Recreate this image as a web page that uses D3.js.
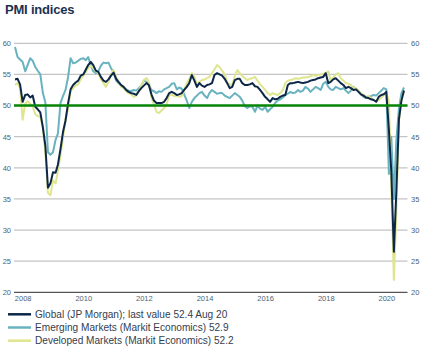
<!DOCTYPE html>
<html><head><meta charset="utf-8">
<script src="https://cdn.jsdelivr.net/npm/d3@7"></script>
<style>
html,body{margin:0;padding:0;background:#fff;}
svg{display:block;font-family:"Liberation Sans",Arial,sans-serif;}
</style></head>
<body>
<svg id="chart" width="422" height="360"></svg>
<script>
// Monthly data, Oct 2007 .. Aug 2020
const startMonth = new Date(2007, 9, 1);
const endMonth = new Date(2020, 7, 1);

const globalPMI = [
54.2,54.3,53.4,50.6,51.7,51.8,51.3,51.6,49.8,49.4,48.9,46.5,43.5,36.8,37.5,39.3,39.2,40.5,43.0,45.7,
47.6,50.3,52.6,53.3,53.7,54.0,54.8,55.0,55.8,56.5,57.0,56.5,55.6,55.4,54.6,54.0,53.8,54.2,54.8,55.3,
54.3,53.8,53.3,53.0,52.5,52.2,52.0,51.9,51.7,52.3,52.8,53.2,53.6,53.3,51.8,50.8,50.4,50.4,50.4,50.6,
51.2,52.0,52.2,52.0,51.7,51.8,52.0,52.5,53.0,53.6,54.9,54.0,53.0,53.6,53.2,53.0,53.3,53.4,53.6,54.9,
55.2,55.0,54.8,54.3,53.6,52.8,53.0,54.1,54.3,54.3,53.6,53.3,53.3,53.4,53.6,53.1,53.0,52.5,52.0,51.4,
51.0,50.6,51.2,51.0,51.1,51.4,51.6,51.7,53.3,53.6,53.6,53.7,53.8,53.7,53.6,53.7,53.8,54.0,54.1,54.2,
54.4,54.5,54.6,55.2,53.6,53.8,54.2,54.4,54.0,53.6,53.3,52.8,53.0,52.8,52.5,52.6,52.2,51.8,51.6,51.3,
51.2,51.0,50.9,50.6,51.4,51.7,51.8,52.2,46.1,39.4,26.5,36.3,47.8,50.8,52.4];

const emergingPMI = [
59.4,57.8,57.4,57.0,55.5,56.5,57.6,57.2,56.2,55.6,55.0,52.0,50.5,42.5,42.1,42.5,44.5,45.5,50.4,51.5,
52.5,54.5,57.6,56.8,56.9,57.2,57.5,57.6,57.3,57.8,56.5,55.5,55.2,55.5,56.4,56.9,56.8,56.9,56.0,55.4,
54.0,53.6,53.3,53.0,52.6,52.4,52.3,52.5,52.4,52.8,53.2,54.0,53.8,53.3,52.5,52.3,52.0,52.3,52.2,52.6,
52.8,53.0,53.5,53.6,52.6,52.9,52.7,51.8,50.8,49.6,50.6,51.2,51.6,52.0,52.2,51.6,51.2,52.0,52.5,52.2,
51.9,52.0,52.0,51.6,51.4,51.2,51.6,52.0,51.7,51.4,50.8,49.9,49.6,49.9,49.8,49.0,50.0,49.5,49.3,49.8,
49.0,49.4,49.8,50.4,50.8,51.0,51.3,51.7,51.9,52.2,52.0,52.1,52.5,52.2,52.4,53.0,52.7,52.2,52.6,53.0,
52.8,52.5,53.5,53.8,53.0,52.6,52.5,53.0,52.8,52.6,52.8,52.4,52.0,52.4,53.0,52.6,52.2,51.8,51.4,51.2,
51.4,51.5,51.7,51.6,52.0,52.4,52.8,52.6,39.0,45.0,35.0,44.5,49.5,52.0,52.9];

const developedPMI = [
53.3,53.6,52.8,47.7,50.3,50.7,50.3,49.8,48.6,48.3,48.2,46.5,42.5,36.0,35.6,38.0,37.5,39.5,42.0,44.7,
47.8,49.5,52.3,52.8,53.2,53.4,54.2,54.8,55.4,56.0,56.4,56.0,55.5,55.3,54.2,53.6,53.0,53.8,55.0,55.7,
54.6,53.9,53.0,52.8,52.3,52.0,51.8,51.4,51.6,52.4,53.2,54.1,54.4,53.8,51.3,50.2,49.0,48.8,49.2,49.6,
50.2,51.6,51.8,51.5,51.6,51.4,51.5,52.5,53.6,54.2,55.2,54.6,53.3,53.8,54.1,54.2,54.4,54.6,55.2,55.8,
56.5,56.2,55.6,55.0,53.8,53.4,53.3,54.8,55.7,55.2,54.8,54.4,54.1,54.3,54.4,54.6,54.0,53.4,53.0,52.5,
52.0,51.7,52.0,51.8,51.7,52.0,52.5,53.6,54.0,54.1,54.2,54.4,54.3,54.4,54.5,54.5,54.6,54.7,54.9,54.8,
54.9,55.0,55.1,55.2,55.5,54.0,54.5,55.0,55.2,54.4,54.0,53.6,53.5,53.3,52.8,52.8,52.4,52.0,51.7,51.4,
51.5,51.2,50.9,50.6,50.9,51.3,51.7,52.0,50.8,37.0,22.0,33.0,47.5,51.0,52.2];

const yTicks = [20,25,30,35,40,45,50,55,60];
const xTickYears = [2008,2010,2012,2014,2016,2018,2020];
const legendLabels = [
  "Global (JP Morgan); last value 52.4 Aug 20",
  "Emerging Markets (Markit Economics) 52.9",
  "Developed Markets (Markit Economics) 52.2"
];
const colors = {global:"#0c2747", emerging:"#68b3bf", developed:"#dfe58e"};

const dates = d3.timeMonth.range(startMonth, d3.timeMonth.offset(endMonth,1));

const svg = d3.select("#chart");
const left = 14, right = 407.5;
const x = d3.scaleTime().domain([startMonth, endMonth]).range([15, 404]);
const y = d3.scaleLinear().domain([20,60]).range([292.3, 43.3]);

// title
svg.append("text").attr("x",5).attr("y",13.6).attr("font-size",13).attr("font-weight","bold")
  .attr("letter-spacing",-0.2).attr("fill","#1b3150").text("PMI indices");

// gridlines
svg.append("g").selectAll("line").data(yTicks.filter(d=>d>20)).join("line")
  .attr("x1",left).attr("x2",right).attr("y1",d=>y(d)).attr("y2",d=>y(d))
  .attr("stroke","#c4c4c4").attr("stroke-width",1.2);

// y axes (labels both sides)
const yl = svg.append("g").attr("transform",`translate(11,0)`)
  .call(d3.axisLeft(y).tickValues(yTicks).tickSize(0).tickPadding(0));
const yr = svg.append("g").attr("transform",`translate(411,0)`)
  .call(d3.axisRight(y).tickValues(yTicks).tickSize(0).tickPadding(0));
[yl,yr].forEach(g=>{
  g.select(".domain").remove();
  g.selectAll("text").attr("font-size",7.5).attr("fill","#4d5f75")
    .attr("font-family","'Liberation Sans',Arial,sans-serif");
});

// x axis
const xa = svg.append("g").attr("transform",`translate(0,${y(20)})`)
  .call(d3.axisBottom(x).tickValues(xTickYears.map(yv=>new Date(yv,0,1)))
    .tickFormat(d3.timeFormat("%Y")).tickSize(0).tickPadding(3));
xa.select(".domain").attr("d",`M${left},0H${right}`).attr("stroke","#555").attr("stroke-width",1.3);
xa.selectAll("text").attr("font-size",7.5).attr("fill","#4d5f75")
  .attr("font-family","'Liberation Sans',Arial,sans-serif");

// lines
const line = d3.line().x((d,i)=>x(dates[i])).y(d=>y(d));
const series = [
  {key:"emerging", vals:emergingPMI},
  {key:"developed", vals:developedPMI},
  {key:"global", vals:globalPMI}
];
svg.append("g").selectAll("path").data(series).join("path")
  .attr("d",d=>line(d.vals)).attr("fill","none")
  .attr("stroke",d=>colors[d.key]).attr("stroke-width",2)
  .attr("stroke-linejoin","round");

// 50 reference line
svg.append("line").attr("x1",left).attr("x2",right).attr("y1",y(50)).attr("y2",y(50))
  .attr("stroke","#078507").attr("stroke-width",2.5);

// legend
const lg = svg.append("g");
const legKeys = ["global","emerging","developed"];
legendLabels.forEach((t,i)=>{
  const yy = 314.3 + i*13.2;
  lg.append("line").attr("x1",8).attr("x2",31).attr("y1",yy).attr("y2",yy)
    .attr("stroke",colors[legKeys[i]]).attr("stroke-width",2.5);
  lg.append("text").attr("x",35).attr("y",yy+3.7).attr("font-size",10.1)
    .attr("fill","#34404f").text(t);
});
</script>
</body></html>
